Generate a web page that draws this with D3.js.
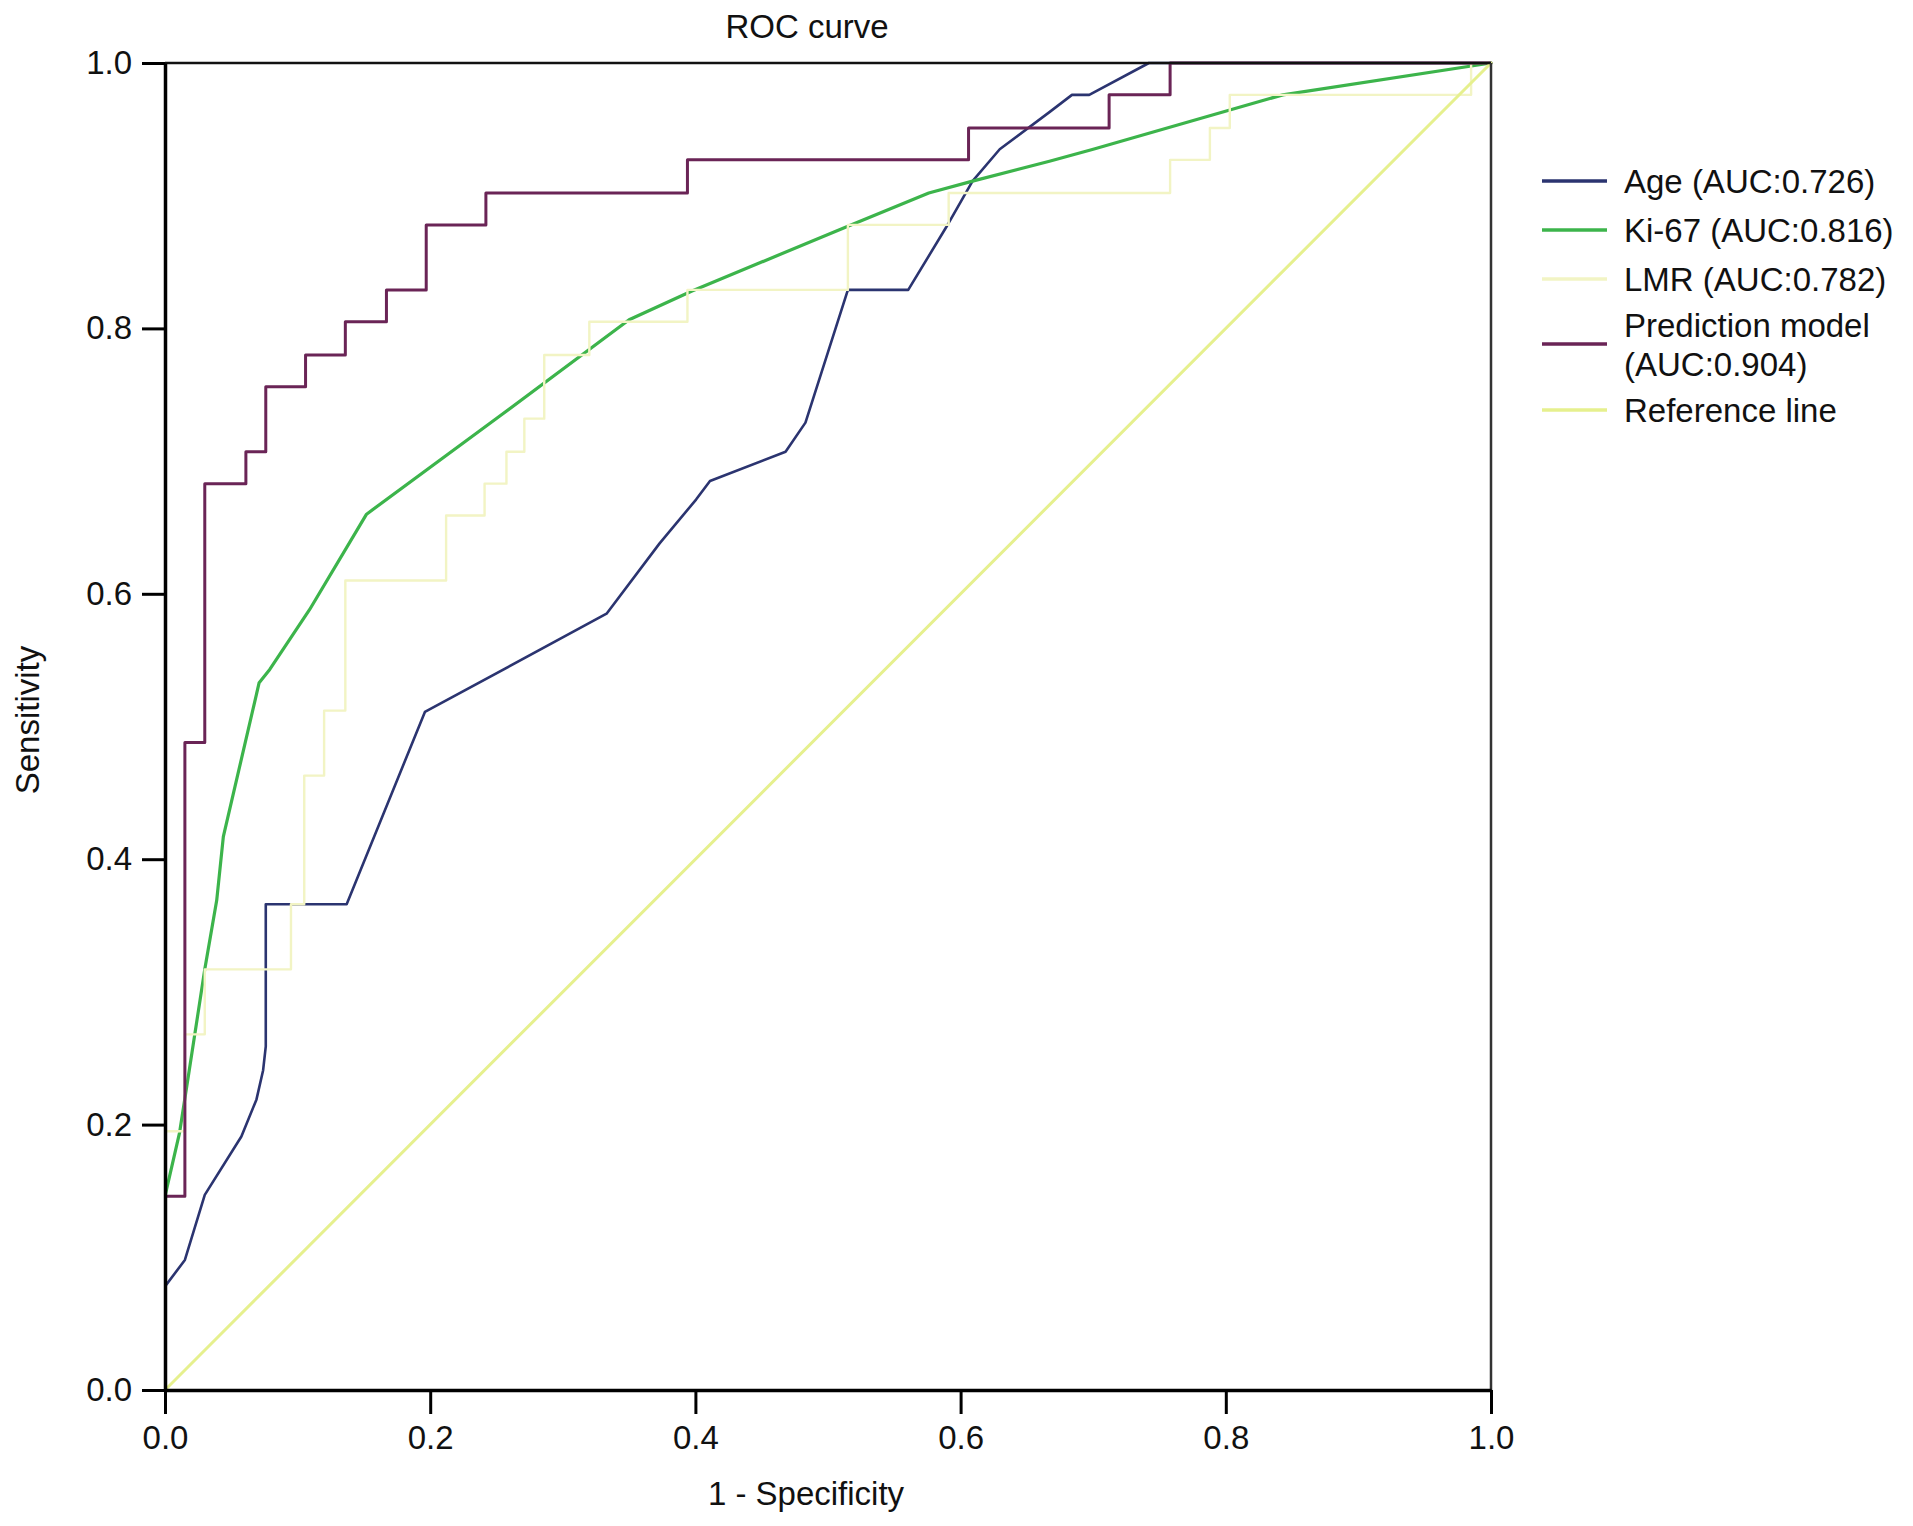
<!DOCTYPE html>
<html>
<head>
<meta charset="utf-8">
<script src="https://cdn.jsdelivr.net/npm/d3@7/dist/d3.min.js"></script>
<style>
  html, body { margin: 0; padding: 0; background: #ffffff; }
  svg { display: block; }
  text { font-family: "Liberation Sans", Arial, Helvetica, sans-serif; fill: #111; }
</style>
</head>
<body>
<svg id="chart" width="1913" height="1526"></svg>
<script>
// ---------------- data ----------------
const title = "ROC curve";
const xLabel = "1 - Specificity";
const yLabel = "Sensitivity";
const tickValues = [0, 0.2, 0.4, 0.6, 0.8, 1.0];

const seriesNames = ["Age (AUC:0.726)", "Ki-67 (AUC:0.816)", "LMR (AUC:0.782)", "Prediction model|(AUC:0.904)", "Reference line"];
const seriesColors = ["#2b3470", "#3cb44b", "#f2f4c4", "#6a2456", "#e6f08e"];

// [1 - specificity, sensitivity]
const agePoints = [
  [0, 0], [0, 0.078], [0.015, 0.098], [0.030, 0.147], [0.0576, 0.191], [0.069, 0.219],
  [0.074, 0.241], [0.076, 0.259], [0.076, 0.366], [0.137, 0.366], [0.196, 0.511],
  [0.333, 0.585], [0.373, 0.638], [0.4005, 0.671], [0.411, 0.685], [0.468, 0.707],
  [0.483, 0.729], [0.515, 0.829], [0.5605, 0.829], [0.589, 0.876], [0.609, 0.911],
  [0.6295, 0.935], [0.667, 0.963], [0.684, 0.976], [0.697, 0.976], [0.742, 1.0], [1, 1]
];
const ki67Points = [
  [0, 0], [0, 0.146], [0.011, 0.194], [0.018, 0.239], [0.030, 0.317], [0.039, 0.369],
  [0.044, 0.417], [0.071, 0.533], [0.079, 0.543], [0.109, 0.588], [0.152, 0.660],
  [0.2525, 0.734], [0.350, 0.8065], [0.397, 0.828], [0.515, 0.877], [0.576, 0.902],
  [0.609, 0.911], [0.667, 0.926], [0.700, 0.935], [0.843, 0.976], [1, 1]
];
const lmrPoints = [
  [0, 0], [0, 0.195], [0.015, 0.195], [0.015, 0.268], [0.030, 0.268], [0.030, 0.317],
  [0.095, 0.317], [0.095, 0.366], [0.105, 0.366], [0.105, 0.463], [0.120, 0.463],
  [0.120, 0.512], [0.136, 0.512], [0.136, 0.610], [0.212, 0.610], [0.212, 0.659],
  [0.241, 0.659], [0.241, 0.683], [0.2575, 0.683], [0.2575, 0.707], [0.271, 0.707],
  [0.271, 0.732], [0.286, 0.732], [0.286, 0.780], [0.320, 0.780], [0.320, 0.805],
  [0.394, 0.805], [0.394, 0.829], [0.515, 0.829], [0.515, 0.878], [0.591, 0.878],
  [0.591, 0.902], [0.758, 0.902], [0.758, 0.927], [0.788, 0.927], [0.788, 0.951],
  [0.803, 0.951], [0.803, 0.976], [0.985, 0.976], [0.985, 1.0], [1, 1]
];
const predPoints = [
  [0, 0], [0, 0.146], [0.015, 0.146], [0.015, 0.488], [0.030, 0.488], [0.030, 0.683],
  [0.061, 0.683], [0.061, 0.707], [0.076, 0.707], [0.076, 0.756], [0.106, 0.756],
  [0.106, 0.780], [0.136, 0.780], [0.136, 0.805], [0.167, 0.805], [0.167, 0.829],
  [0.197, 0.829], [0.197, 0.878], [0.242, 0.878], [0.242, 0.902], [0.394, 0.902],
  [0.394, 0.927], [0.606, 0.927], [0.606, 0.951], [0.712, 0.951], [0.712, 0.976],
  [0.758, 0.976], [0.758, 1.0], [1, 1]
];
const refPoints = [[0, 0], [1, 1]];

// ---------------- layout ----------------
const svg = d3.select("#chart");
const plot = { left: 165, right: 1491, top: 63, bottom: 1390 };
const x = d3.scaleLinear().domain([0, 1]).range([plot.left, plot.right]);
const y = d3.scaleLinear().domain([0, 1]).range([plot.bottom, plot.top]);
const FS = 33;

// title
svg.append("text").attr("x", 807).attr("y", 38).attr("text-anchor", "middle")
  .style("font-size", FS + "px").text(title);

// curves
const line = d3.line().x(d => x(d[0])).y(d => y(d[1]));
const allSeries = [agePoints, ki67Points, lmrPoints, predPoints, refPoints];
const widths = [2.6, 3.2, 2.4, 3.0, 3.0];
const clip = svg.append("defs").append("clipPath").attr("id", "clip")
  .append("rect").attr("x", plot.left).attr("y", plot.top - 2)
  .attr("width", plot.right - plot.left + 2).attr("height", plot.bottom - plot.top + 4);
const gLines = svg.append("g").attr("clip-path", "url(#clip)");
allSeries.forEach((pts, i) => {
  gLines.append("path").datum(pts)
    .attr("d", line)
    .attr("fill", "none")
    .attr("stroke", seriesColors[i])
    .attr("stroke-width", widths[i])
    .attr("stroke-linejoin", "round")
    .attr("stroke-linecap", "round");
});

// frame: top and right sides
svg.append("line").attr("x1", x(0)).attr("x2", x(1)).attr("y1", y(1)).attr("y2", y(1))
  .attr("stroke", "#111").attr("stroke-width", 2.5);
svg.append("line").attr("x1", x(1)).attr("x2", x(1)).attr("y1", y(1)).attr("y2", y(0))
  .attr("stroke", "#333").attr("stroke-width", 2.5);

// axes
const fmt = d3.format(".1f");
const xAxis = svg.append("g").attr("transform", `translate(0,${plot.bottom})`)
  .call(d3.axisBottom(x).tickValues(tickValues).tickFormat(fmt).tickSize(24).tickPadding(12).tickSizeOuter(0));
const yAxis = svg.append("g").attr("transform", `translate(${plot.left},0)`)
  .call(d3.axisLeft(y).tickValues(tickValues).tickFormat(fmt).tickSize(23).tickPadding(10).tickSizeOuter(0));
[xAxis, yAxis].forEach(g => {
  g.select(".domain").attr("stroke", "#000").attr("stroke-width", 3.5);
  g.selectAll(".tick line").attr("stroke", "#000").attr("stroke-width", 3);
  g.selectAll(".tick text").style("font-size", FS + "px")
    .style("font-family", '"Liberation Sans", Arial, sans-serif').attr("fill", "#111");
});

// axis titles
svg.append("text").attr("x", 806).attr("y", 1505).attr("text-anchor", "middle")
  .style("font-size", FS + "px").text(xLabel);
svg.append("text").attr("transform", "translate(39,720) rotate(-90)").attr("text-anchor", "middle")
  .style("font-size", FS + "px").text(yLabel);

// legend
const legendRows = [181, 230, 279, 344, 410];
const legend = svg.append("g");
seriesNames.forEach((name, i) => {
  const cy = legendRows[i];
  legend.append("line").attr("x1", 1542).attr("x2", 1607).attr("y1", cy).attr("y2", cy)
    .attr("stroke", seriesColors[i]).attr("stroke-width", 3.5);
  const parts = name.split("|");
  if (parts.length === 1) {
    legend.append("text").attr("x", 1624).attr("y", cy + 12)
      .style("font-size", FS + "px").text(parts[0]);
  } else {
    legend.append("text").attr("x", 1624).attr("y", cy - 19 + 12)
      .style("font-size", FS + "px").text(parts[0]);
    legend.append("text").attr("x", 1624).attr("y", cy + 20 + 12)
      .style("font-size", FS + "px").text(parts[1]);
  }
});
</script>
</body>
</html>
